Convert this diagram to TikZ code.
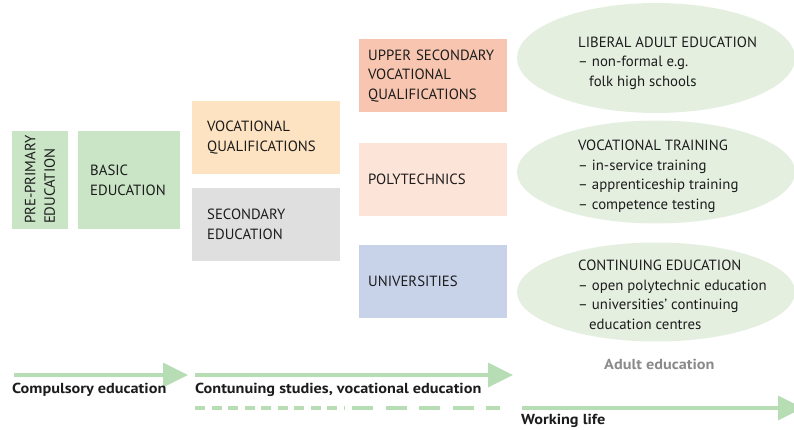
\documentclass[tikz,border=0pt]{standalone}
\usepackage{fontspec}
\setmainfont{PT Sans}
\newfontfamily\labelfont[FakeStretch=1.12]{PT Sans}
\usepackage{xcolor}
\usepackage{tikz}
\usetikzlibrary{arrows.meta,positioning,shapes.geometric}
\definecolor{ink}{HTML}{1C1C1C}
\definecolor{muted}{HTML}{8A8A8A}
\definecolor{greenbox}{HTML}{C9E5C6}
\definecolor{greenflow}{HTML}{B7DDB4}
\definecolor{greenpale}{HTML}{E5EFE0}
\definecolor{peach}{HTML}{FDE3C1}
\definecolor{greybox}{HTML}{DFDFDF}
\definecolor{salmon}{HTML}{F8C6B0}
\definecolor{pinkpale}{HTML}{FDE4D8}
\definecolor{bluepale}{HTML}{C8D3EA}

\begin{document}
\begin{tikzpicture}[x=1pt,y=-1pt, node distance=13pt, every node/.style={font=\fontsize{14.8}{19.5}\selectfont,align=left,text=ink},
  cell/.style={anchor=north west,inner ysep=0pt,minimum height=73pt},
  mid/.style={cell,inner xsep=15pt,text width=118pt},
  right col/.style={cell,inner xsep=9pt,text width=130pt},
  oval/.style={ellipse,fill=greenpale,inner sep=0pt},
  lbl/.style={inner sep=0pt,anchor=west},
  bold lbl/.style={lbl,font=\fontsize{14.5}{17}\labelfont\bfseries},
  flow/.style={draw=greenflow,line width=3.6pt,-{Triangle[length=25pt,width=24pt]}},
  track/.style={draw=greenflow,line width=3.6pt}]
  \useasboundingbox (0,0) rectangle (794,430);
  % school boxes
  \node[fill=greenbox,rotate=90,minimum width=98pt,minimum height=56pt,inner xsep=5pt,text width=88pt] (pre) at (40,180) {\mbox{PRE-PRIMARY}\\EDUCATION};
  \node[cell,fill=greenbox,minimum height=98pt,inner xsep=12pt,text width=78pt] (basic) at (78,131) {BASIC\\EDUCATION};
  \node[mid,fill=peach] (vocq) at (192,101) {VOCATIONAL\\QUALIFICATIONS};
  \node[mid,fill=greybox,below=of vocq] (second) {SECONDARY\\EDUCATION};
  \node[right col,fill=salmon] (upper) at (359,39) {UPPER SECONDARY\\VOCATIONAL\\QUALIFICATIONS};
  \node[right col,fill=pinkpale,below=30pt of upper] (poly) {POLYTECHNICS};
  \node[right col,fill=bluepale,below=29pt of poly] (uni) {UNIVERSITIES};
  % adult education
  \node[oval,minimum width=278pt,minimum height=110pt] (liberal) at (656,58) {};
  \node[oval,minimum width=278pt,minimum height=103pt] (voctrain) at (656,172) {};
  \node[oval,minimum width=278pt,minimum height=99pt] (contin) at (656,292) {};
  \node[lbl] (liberaltxt) at (578,63) {LIBERAL ADULT EDUCATION\\-- non-formal e.g.\\\hspace*{11pt}folk high schools};
  \node[lbl] (voctraintxt) at (578,176.5) {VOCATIONAL TRAINING\\-- in-service training\\-- apprenticeship training\\-- competence testing};
  \node[lbl] (continttxt) at (578,295) {CONTINUING EDUCATION\\-- open polytechnic education\\-- universities' continuing\\\hspace*{11pt}education centres};
  \node[bold lbl,text=muted] (adult) at (604,364) {Adult education};
  % time line
  \coordinate (compA) at (14,375);   \coordinate (compB) at (188,375);
  \coordinate (contA) at (195,375);  \coordinate (contB) at (513,375);
  \coordinate (workA) at (522,408);  \coordinate (workB) at (803,408);
  \coordinate (dashA) at (195,408);  \coordinate (dashB) at (345,408);
  \coordinate (dashC) at (352,408);  \coordinate (dashD) at (500,408);
  \draw[flow] (compA) -- (compB);
  \draw[flow] (contA) -- (contB);
  \draw[flow] (workA) -- (workB);
  \draw[track,dash pattern=on 10pt off 6.5pt] (dashA) -- (dashB);
  \draw[track,dash pattern=on 21pt off 12.5pt] (dashC) -- (dashD);
  \node[bold lbl] (compulsory) at (12,390) {Compulsory education};
  \node[bold lbl] (continuing) at (195,390) {Contunuing studies, vocational education};
  \node[bold lbl] (working) at (521,421) {Working life};
\end{tikzpicture}
\end{document}
